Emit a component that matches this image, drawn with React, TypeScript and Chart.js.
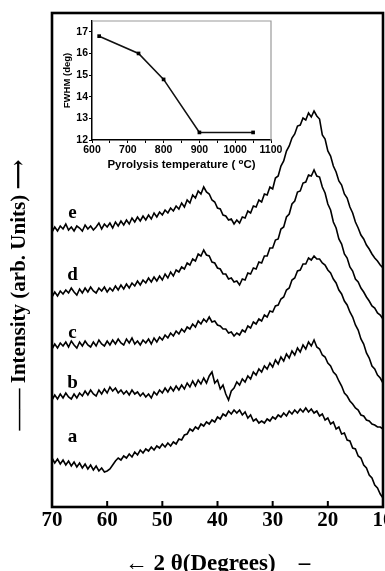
import React, { useEffect, useRef } from 'react';
import { Chart, registerables } from 'chart.js';

Chart.register(...registerables);

// 2θ sampling (degrees), read at 0.5° steps from 70 down to 10
const twoTheta = [
  70, 69.5, 69, 68.5, 68, 67.5, 67, 66.5, 66, 65.5,
  65, 64.5, 64, 63.5, 63, 62.5, 62, 61.5, 61, 60.5,
  60, 59.5, 59, 58.5, 58, 57.5, 57, 56.5, 56, 55.5,
  55, 54.5, 54, 53.5, 53, 52.5, 52, 51.5, 51, 50.5,
  50, 49.5, 49, 48.5, 48, 47.5, 47, 46.5, 46, 45.5,
  45, 44.5, 44, 43.5, 43, 42.5, 42, 41.5, 41, 40.5,
  40, 39.5, 39, 38.5, 38, 37.5, 37, 36.5, 36, 35.5,
  35, 34.5, 34, 33.5, 33, 32.5, 32, 31.5, 31, 30.5,
  30, 29.5, 29, 28.5, 28, 27.5, 27, 26.5, 26, 25.5,
  25, 24.5, 24, 23.5, 23, 22.5, 22, 21.5, 21, 20.5,
  20, 19.5, 19, 18.5, 18, 17.5, 17, 16.5, 16, 15.5,
  15, 14.5, 14, 13.5, 13, 12.5, 12, 11.5, 11, 10.5,
  10,
];

// Intensities (arb. units, stacked/offset as in the figure)
const curveA = [
  49, 44, 48, 43, 47, 42, 46, 41, 45, 40,
  44, 39, 43, 38, 42, 37, 41, 36, 39, 35,
  36, 38, 42, 46, 49, 47, 51, 49, 53, 50,
  55, 52, 57, 54, 58, 56, 60, 57, 61, 59,
  63, 60, 64, 61, 65, 63, 68, 67, 72, 73,
  78, 76, 80, 78, 83, 81, 85, 83, 87, 85,
  90, 88, 93, 91, 96, 93, 97, 94, 97, 92,
  95, 89, 92, 86, 88, 84, 86, 84, 88, 86,
  90, 88, 92, 90, 94, 91, 96, 93, 97, 94,
  98, 95, 99, 95, 98, 94, 96, 91, 93, 87,
  89, 83, 85, 78, 80, 73, 74, 67, 66, 59,
  58, 51, 49, 42, 39, 32, 29, 22, 19, 13,
  9,
];
const curveB = [
  107, 112, 108, 113, 109, 114, 110, 108, 113, 109,
  114, 111, 116, 112, 117, 113, 111, 117, 113, 118,
  114, 120, 116, 119, 114, 117, 113, 116, 112, 117,
  113, 115, 111, 114, 110, 113, 109, 115, 112, 117,
  114, 119, 115, 120, 116, 121, 117, 122, 118, 124,
  120, 126, 121, 127, 123, 129, 124, 131, 135, 124,
  127, 118, 122, 113, 107, 116, 119, 125, 122, 128,
  125, 131, 128, 135, 132, 138, 135, 141, 138, 144,
  140, 147, 143, 150, 146, 153, 149, 156, 152, 159,
  155, 162, 158, 165, 161, 167, 160, 158, 152, 150,
  144, 141, 135, 132, 126, 121, 114, 111, 106, 103,
  99, 97, 92, 91, 87, 86, 83, 82, 80, 80,
  78,
];
const curveC = [
  158, 163, 159, 164, 161, 165, 160, 166, 162, 159,
  165, 161, 166, 162, 160, 165, 161, 167, 163, 161,
  166, 162, 167, 163, 168, 164, 162, 168, 164, 169,
  163, 166, 162, 167, 164, 168, 163, 169, 165, 170,
  167, 172, 169, 174, 171, 176, 173, 178, 175, 180,
  178, 183, 180, 186, 183, 188, 185, 190, 185, 186,
  182, 181, 178, 178, 174, 175, 171, 174, 172, 177,
  175, 181, 179, 185, 183, 188, 186, 192, 190, 196,
  195, 201, 202, 208, 210, 217, 219, 227, 229, 236,
  237, 243, 243, 249, 247, 251, 248, 248, 244, 242,
  237, 234, 228, 224, 217, 213, 206, 202, 195, 190,
  182, 177, 168, 163, 154, 149, 141, 138, 132, 129,
  124,
];
const curveD = [
  210, 215, 211, 216, 213, 217, 214, 219, 215, 212,
  218, 214, 219, 215, 220, 216, 214, 219, 216, 220,
  215, 219, 216, 221, 217, 222, 218, 223, 219, 224,
  221, 226, 222, 227, 224, 229, 225, 230, 226, 231,
  227, 233, 229, 235, 231, 237, 235, 240, 238, 244,
  242, 248, 246, 253, 251, 257, 252, 251, 245, 244,
  239, 238, 233, 233, 228, 229, 225, 226, 222, 228,
  227, 234, 233, 239, 238, 245, 244, 251, 251, 259,
  259, 267, 268, 278, 280, 290, 293, 303, 306, 315,
  316, 324, 325, 332, 331, 337, 331, 330, 320, 314,
  303, 297, 285, 279, 268, 263, 253, 249, 240, 236,
  228, 225, 219, 215, 210, 206, 201, 199, 194, 192,
  188,
];
const curveE = [
  275, 280, 276, 281, 278, 283, 277, 280, 276, 281,
  279, 276, 282, 278, 281, 277, 280, 284, 278, 283,
  280, 284, 279, 285, 281, 286, 282, 287, 283, 289,
  285, 290, 286, 291, 287, 292, 288, 294, 290, 295,
  292, 297, 294, 299, 296, 301, 298, 304, 300, 307,
  304, 312, 309, 316, 313, 320, 315, 313, 307, 305,
  299, 298, 292, 291, 287, 288, 283, 287, 284, 290,
  289, 296, 294, 301, 300, 307, 305, 313, 312, 320,
  318, 329, 331, 341, 346, 356, 361, 369, 373, 381,
  382, 389, 387, 394, 390, 396, 391, 388, 372, 368,
  356, 351, 341, 335, 326, 322, 313, 309, 300, 294,
  285, 279, 272, 268, 262, 258, 253, 249, 246, 242,
  239,
];

const curveNames = ['a', 'b', 'c', 'd', 'e'];
const curveLabelAngle = 66.3;
const curveLabelLevels = [70, 124, 174, 232, 294];

// Inset: FWHM vs pyrolysis temperature
const pyrolysisTemp = [620, 730, 800, 900, 1050];
const fwhmDeg = [16.8, 16.0, 14.8, 12.35, 12.35];

const X_TITLE = '← 2 θ(Degrees)    –';
const Y_TITLE = '—— Intensity (arb. Units) ⟶';
const INSET_X_TITLE = 'Pyrolysis temperature ( ⁰C)';
const INSET_Y_TITLE = 'FWHM (deg)';

const SERIF = '"Liberation Serif", "Times New Roman", "DejaVu Serif", serif';
const SANS = '"Liberation Sans", Arial, "DejaVu Sans", sans-serif';

const mainDecor = {
  id: 'mainDecor',
  afterDraw(chart: any) {
    const { ctx, chartArea: ca, scales } = chart;
    const xs = scales.x;
    const ys = scales.y;
    ctx.save();
    ctx.strokeStyle = '#000';
    ctx.lineWidth = 2.6;
    ctx.strokeRect(ca.left, ca.top, ca.right - ca.left, ca.bottom - ca.top);
    ctx.lineWidth = 2;
    xs.ticks.forEach((t: any) => {
      if (t.value > xs.min && t.value < xs.max) {
        const px = xs.getPixelForValue(t.value);
        ctx.beginPath();
        ctx.moveTo(px, ca.bottom);
        ctx.lineTo(px, ca.bottom - 6);
        ctx.stroke();
      }
    });
    ctx.fillStyle = '#000';
    ctx.font = `bold 19px ${SERIF}`;
    ctx.textAlign = 'center';
    ctx.textBaseline = 'middle';
    curveNames.forEach((name, i) => {
      ctx.fillText(name, xs.getPixelForValue(curveLabelAngle), ys.getPixelForValue(curveLabelLevels[i]));
    });
    ctx.translate(20, 295);
    ctx.rotate(-Math.PI / 2);
    ctx.font = `bold 21px ${SERIF}`;
    ctx.fillText(Y_TITLE, 0, 0);
    ctx.restore();
  },
};

const insetFrame = {
  id: 'insetFrame',
  afterDraw(chart: any) {
    const { ctx, chartArea: ca } = chart;
    ctx.save();
    ctx.strokeStyle = '#9a9a9a';
    ctx.lineWidth = 1.2;
    ctx.beginPath();
    ctx.moveTo(ca.left, ca.top);
    ctx.lineTo(ca.right, ca.top);
    ctx.lineTo(ca.right, ca.bottom);
    ctx.stroke();
    ctx.restore();
  },
};

export default function App() {
  const mainRef = useRef<HTMLCanvasElement>(null);
  const insetRef = useRef<HTMLCanvasElement>(null);

  useEffect(() => {
    const series = [curveA, curveB, curveC, curveD, curveE];
    const main = new Chart(mainRef.current as HTMLCanvasElement, {
      type: 'line',
      data: {
        datasets: series.map((vals, k) => ({
          label: curveNames[k],
          data: twoTheta.map((t, i) => ({ x: t, y: vals[i] })),
          borderColor: '#000',
          borderWidth: 1.6,
          pointRadius: 0,
          tension: 0,
          fill: false,
        })),
      },
      options: {
        animation: false,
        responsive: false,
        events: [],
        layout: { padding: { left: 52, top: 13, right: 2, bottom: 0 } },
        plugins: { legend: { display: false }, tooltip: { enabled: false } },
        scales: {
          x: {
            type: 'linear',
            reverse: true,
            min: 10,
            max: 70,
            afterFit(s: any) {
              s.height = 64;
              s.paddingLeft = 0;
              s.paddingRight = 0;
            },
            ticks: {
              stepSize: 10,
              autoSkip: false,
              maxRotation: 0,
              color: '#000',
              padding: 1,
              font: { family: SERIF, size: 21, weight: 'bold' },
            },
            grid: { display: false, drawTicks: false },
            border: { display: false },
            title: {
              display: true,
              text: X_TITLE,
              color: '#000',
              font: { family: SERIF, size: 23, weight: 'bold', lineHeight: 0.6 },
              padding: { top: 0, bottom: 0 },
            },
          },
          y: { display: false, min: 0, max: 494 },
        },
      } as any,
      plugins: [mainDecor],
    });

    const inset = new Chart(insetRef.current as HTMLCanvasElement, {
      type: 'line',
      data: {
        datasets: [
          {
            label: 'FWHM',
            data: pyrolysisTemp.map((t, i) => ({ x: t, y: fwhmDeg[i] })),
            borderColor: '#111',
            borderWidth: 1.6,
            pointStyle: 'rect',
            pointRadius: 2.6,
            pointBackgroundColor: '#000',
            pointBorderColor: '#000',
            pointBorderWidth: 0,
            tension: 0,
          },
        ],
      },
      options: {
        animation: false,
        responsive: false,
        events: [],
        layout: { padding: { left: 0, top: 9, right: 17, bottom: 0 } },
        plugins: { legend: { display: false }, tooltip: { enabled: false } },
        scales: {
          x: {
            type: 'linear',
            min: 600,
            max: 1100,
            afterFit(s: any) {
              s.height = 38;
              s.paddingLeft = 0;
              s.paddingRight = 0;
            },
            ticks: {
              stepSize: 50,
              autoSkip: false,
              maxRotation: 0,
              color: '#000',
              padding: 1,
              font: { family: SANS, size: 10.5, weight: 'bold' },
              callback: (v: any) => (Number(v) % 100 === 0 ? String(v) : ''),
            },
            grid: { drawOnChartArea: false, tickLength: 3, color: '#000', lineWidth: 1 },
            border: { color: '#000', width: 1.5 },
            title: {
              display: true,
              text: INSET_X_TITLE,
              color: '#000',
              font: { family: SANS, size: 11.5, weight: 'bold' },
              padding: { top: 0, bottom: 6 },
            },
          },
          y: {
            min: 12,
            max: 17.5,
            afterFit(s: any) {
              s.width = 44;
            },
            ticks: {
              stepSize: 1,
              includeBounds: false,
              color: '#000',
              padding: 1,
              font: { family: SANS, size: 10.5, weight: 'bold' },
            },
            grid: { drawOnChartArea: false, tickLength: 3, color: '#000', lineWidth: 1 },
            border: { color: '#000', width: 1.5 },
            title: {
              display: true,
              text: INSET_Y_TITLE,
              color: '#000',
              font: { family: SANS, size: 9.5, weight: 'bold' },
              padding: { top: 14, bottom: 0 },
            },
          },
        },
      } as any,
      plugins: [insetFrame],
    });

    return () => {
      main.destroy();
      inset.destroy();
    };
  }, []);

  return (
    <div
      style={{
        position: 'fixed',
        left: 0,
        top: 0,
        width: 385,
        height: 571,
        background: '#fff',
        overflow: 'hidden',
      }}
    >
      <canvas
        ref={mainRef}
        width={385}
        height={571}
        style={{ position: 'absolute', left: 0, top: 0, width: 385, height: 571 }}
      />
      <canvas
        ref={insetRef}
        width={240}
        height={166}
        style={{ position: 'absolute', left: 48, top: 12, width: 240, height: 166 }}
      />
    </div>
  );
}
